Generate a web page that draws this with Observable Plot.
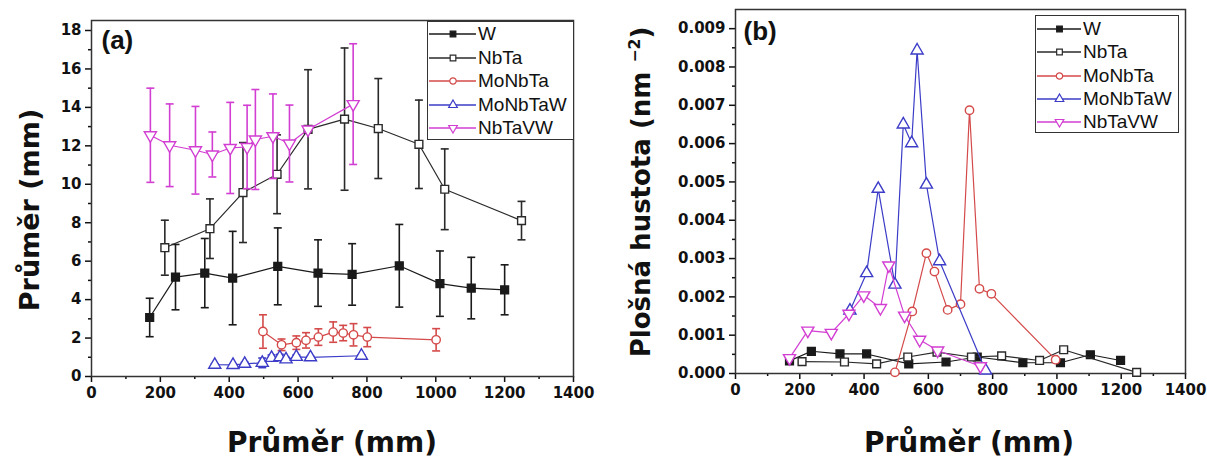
<!DOCTYPE html>
<html><head><meta charset="utf-8">
<script src="https://cdn.jsdelivr.net/npm/d3@7"></script>
<script src="https://cdn.jsdelivr.net/npm/@observablehq/plot@0.6"></script>
<style>
body{margin:0;background:#fff;}
#root{position:relative;width:1207px;height:459px;overflow:hidden;font-family:"Liberation Sans",Arial,sans-serif;color:#111;}
.panel{position:absolute;top:0;}
.lab{position:absolute;font-family:"DejaVu Sans",Verdana,sans-serif;font-weight:bold;white-space:nowrap;line-height:1;}
.legend{position:absolute;border:1.5px solid #333;background:#fff;box-sizing:border-box;}
.row{position:absolute;left:0;height:20px;display:flex;align-items:center;font-size:19px;white-space:nowrap;}
sup{font-size:0.6em;vertical-align:0.7em;}
</style></head>
<body><div id="root"></div>
<script>
// ---------- data ----------
const seriesNames = ["W", "NbTa", "MoNbTa", "MoNbTaW", "NbTaVW"];
const seriesColors = ["#1a1a1a", "#2a2a2a", "#d44a4a", "#3c3cc8", "#d23ed2"];
const seriesFills = ["#1a1a1a", "white", "white", "white", "white"];

// panel (a): diameter vs size with error bars
const aW_x = [169, 244, 329, 410, 541, 658, 757, 894, 1012, 1103, 1200];
const aW_y = [3.07, 5.17, 5.38, 5.12, 5.73, 5.38, 5.31, 5.76, 4.83, 4.60, 4.51];
const aW_err = [1.0, 1.7, 1.8, 2.43, 2.0, 1.73, 1.6, 2.15, 1.7, 1.6, 1.3];

const aNbTa_x = [213, 344, 440, 539, 629, 735, 833, 951, 1026, 1249];
const aNbTa_y = [6.70, 7.69, 9.57, 10.52, 12.86, 13.39, 12.90, 12.08, 9.74, 8.11];
const aNbTa_err = [1.43, 1.55, 2.6, 2.05, 3.1, 3.7, 2.6, 2.3, 2.1, 1.0];

const aMoNbTa_x = [498, 552, 595, 623, 659, 702, 731, 761, 801, 1001];
const aMoNbTa_y = [2.34, 1.65, 1.76, 1.88, 2.05, 2.31, 2.26, 2.17, 2.05, 1.91];
const aMoNbTa_err = [0.87, 0.3, 0.35, 0.4, 0.43, 0.53, 0.4, 0.58, 0.5, 0.58];

const aMoNbTaW_x = [358, 411, 445, 496, 523, 547, 565, 595, 636, 784];
const aMoNbTaW_y = [0.61, 0.60, 0.66, 0.71, 0.97, 1.00, 0.89, 1.02, 1.00, 1.08];
const aMoNbTaW_err = [0.05, 0.05, 0.08, 0.25, 0.15, 0.15, 0.1, 0.1, 0.05, 0.05];

const aNbTaVW_x = [171, 227, 302, 351, 403, 452, 476, 527, 575, 629, 760];
const aNbTaVW_y = [12.55, 12.03, 11.77, 11.55, 11.89, 11.94, 12.33, 12.50, 12.12, 12.85, 14.17];
const aNbTaVW_err = [2.45, 2.15, 2.28, 1.17, 2.37, 2.17, 2.6, 2.2, 2.0, 0, 3.14];

// panel (b): areal density
const bW_x = [168, 236, 325, 408, 539, 655, 752, 894, 1011, 1104, 1198];
const bW_y = [0.00033, 0.00058, 0.00051, 0.00051, 0.00025, 0.00030, 0.00043, 0.00028, 0.00028, 0.00049, 0.00034];

const bNbTa_x = [207, 339, 439, 536, 627, 734, 828, 946, 1021, 1248];
const bNbTa_y = [0.00031, 0.00030, 0.00025, 0.00043, 0.00056, 0.00043, 0.00046, 0.00034, 0.00062, 0.00003];

const bMoNbTa_x = [496, 550, 594, 619, 660, 700, 728, 759, 796, 996];
const bMoNbTa_y = [0.00003, 0.00162, 0.00314, 0.00266, 0.00166, 0.00181, 0.00687, 0.00221, 0.00208, 0.00036];

const bMoNbTaW_x = [356, 408, 444, 496, 522, 548, 565, 594, 635, 778];
const bMoNbTaW_y = [0.00164, 0.00262, 0.00482, 0.00232, 0.0065, 0.00601, 0.00843, 0.00493, 0.00293, 0.00008];

const bNbTaVW_x = [168, 225, 298, 353, 399, 451, 477, 526, 573, 629, 762];
const bNbTaVW_y = [0.0004, 0.00112, 0.00106, 0.00156, 0.00204, 0.00171, 0.00282, 0.00151, 0.00088, 0.0006, 0.00019];

const xTicks = [0, 200, 400, 600, 800, 1000, 1200, 1400];
const xMinor = [100, 300, 500, 700, 900, 1100, 1300];
const aYTicks = [0, 2, 4, 6, 8, 10, 12, 14, 16, 18];
const aYMinor = [1, 3, 5, 7, 9, 11, 13, 15, 17];
const bYTicks = [0, 0.001, 0.002, 0.003, 0.004, 0.005, 0.006, 0.007, 0.008, 0.009];
const bYMinor = [0.0005, 0.0015, 0.0025, 0.0035, 0.0045, 0.0055, 0.0065, 0.0075, 0.0085];

// ---------- symbols ----------
const sqrt3 = Math.sqrt(3);
const triDown = {draw(c, size) {
  const y = -Math.sqrt(size / (sqrt3 * 3));
  c.moveTo(0, -y * 2); c.lineTo(-sqrt3 * y, y); c.lineTo(sqrt3 * y, y); c.closePath();
}};
const capSym = {draw(c, size) {
  const w = Math.sqrt(size);
  c.moveTo(-w / 2, 0); c.lineTo(w / 2, 0);
}};
const seriesSymbols = ["square", "square", "circle", "triangle", triDown];
const seriesR = [4.4, 4.4, 4.2, 4.5, 4.5];

function seriesMarks(i, xs, ys, errs) {
  const color = seriesColors[i];
  const data = xs.map((v, k) => ({x: v, y: ys[k], e: errs ? errs[k] : 0}));
  const withErr = data.filter(d => d.e > 0);
  const marks = [Plot.line(data, {x: "x", y: "y", stroke: color, strokeWidth: 1.2})];
  if (errs) {
    marks.push(
      Plot.ruleX(withErr, {x: "x", y1: d => d.y - d.e, y2: d => d.y + d.e, stroke: color, strokeWidth: 1.6}),
      Plot.dot(withErr, {x: "x", y: d => d.y + d.e, symbol: capSym, r: 4.5, stroke: color, strokeWidth: 1.6}),
      Plot.dot(withErr, {x: "x", y: d => d.y - d.e, symbol: capSym, r: 4.5, stroke: color, strokeWidth: 1.6})
    );
  }
  marks.push(Plot.dot(data, {x: "x", y: "y", symbol: seriesSymbols[i], r: seriesR[i],
    stroke: color, fill: seriesFills[i], strokeWidth: 1.4}));
  return marks;
}

function axes(yTicks, yMinor, yFmt) {
  return [
    Plot.axisX(xTicks, {tickSize: 6, tickPadding: 5, strokeWidth: 1.5, tickFormat: d => String(d)}),
    Plot.axisX(xMinor, {tickSize: 3, strokeWidth: 1.5, tickFormat: () => ""}),
    Plot.axisY(yTicks, {tickSize: 6, tickPadding: 4, strokeWidth: 1.5, tickFormat: yFmt}),
    Plot.axisY(yMinor, {tickSize: 3, strokeWidth: 1.5, tickFormat: () => ""}),
    Plot.frame({stroke: "#333", strokeWidth: 1.5})
  ];
}

const root = document.getElementById("root");
const plotStyle = {fontFamily: "'DejaVu Sans', Verdana, sans-serif", fontSize: "15px", fontWeight: "bold", color: "#111", background: "transparent"};

const plotA = Plot.plot({
  width: 600, height: 410,
  marginLeft: 91, marginRight: 27, marginTop: 20, marginBottom: 34,
  x: {domain: [0, 1400], label: null},
  y: {domain: [0, 18.52], label: null},
  style: plotStyle,
  marks: [
    ...axes(aYTicks, aYMinor, d => String(d)),
    ...seriesMarks(0, aW_x, aW_y, aW_err),
    ...seriesMarks(1, aNbTa_x, aNbTa_y, aNbTa_err),
    ...seriesMarks(2, aMoNbTa_x, aMoNbTa_y, aMoNbTa_err),
    ...seriesMarks(3, aMoNbTaW_x, aMoNbTaW_y, aMoNbTaW_err),
    ...seriesMarks(4, aNbTaVW_x, aNbTaVW_y, aNbTaVW_err),
    Plot.text(["(a)"], {frameAnchor: "top-left", dx: 10, dy: 10, fontSize: 26, fontWeight: "bold", fill: "#111", fontFamily: "'Liberation Sans', Arial, sans-serif"})
  ]
});
plotA.classList.add("panel"); plotA.style.left = "0px";
root.appendChild(plotA);

const plotB = Plot.plot({
  width: 587, height: 410,
  marginLeft: 115, marginRight: 22, marginTop: 9, marginBottom: 37,
  x: {domain: [0, 1400], label: null},
  y: {domain: [0, 0.0095], label: null},
  style: plotStyle,
  marks: [
    ...axes(bYTicks, bYMinor, d3.format(".3f")),
    ...seriesMarks(0, bW_x, bW_y, null),
    ...seriesMarks(1, bNbTa_x, bNbTa_y, null),
    ...seriesMarks(2, bMoNbTa_x, bMoNbTa_y, null),
    ...seriesMarks(3, bMoNbTaW_x, bMoNbTaW_y, null),
    ...seriesMarks(4, bNbTaVW_x, bNbTaVW_y, null),
    Plot.text(["(b)"], {frameAnchor: "top-left", dx: 8, dy: 12, fontSize: 26, fontWeight: "bold", fill: "#111", fontFamily: "'Liberation Sans', Arial, sans-serif"})
  ]
});
plotB.classList.add("panel"); plotB.style.left = "620px";
root.appendChild(plotB);

// ---------- axis titles ----------
function label(html, cx, cy, size, rotate) {
  const d = document.createElement("div");
  d.className = "lab";
  d.innerHTML = html;
  d.style.fontSize = size + "px";
  d.style.left = cx + "px";
  d.style.top = cy + "px";
  d.style.transform = "translate(-50%,-50%)" + (rotate ? " rotate(-90deg)" : "");
  root.appendChild(d);
}
label("Průměr (mm)", 332, 443, 28, false);
label("Průměr (mm)", 969, 443, 28, false);
label("Průměr (mm)", 29, 210, 27, true);
label("Plošná hustota (nm <sup>−2</sup>)", 641, 192, 26, true);

// ---------- legends ----------
function legend(left, top, w, h, firstY, step, textX) {
  const box = document.createElement("div");
  box.className = "legend";
  Object.assign(box.style, {left: left + "px", top: top + "px", width: w + "px", height: h + "px"});
  seriesNames.forEach((name, i) => {
    const row = document.createElement("div");
    row.className = "row";
    row.style.top = (firstY + i * step - 10) + "px";
    const svg = d3.create("svg").attr("width", textX).attr("height", 20);
    const c = seriesColors[i];
    svg.append("line").attr("x1", 1).attr("x2", textX - 2).attr("y1", 10).attr("y2", 10)
      .attr("stroke", c).attr("stroke-width", 1.4);
    const sym = seriesSymbols[i] === "square" ? d3.symbolSquare :
      seriesSymbols[i] === "circle" ? d3.symbolCircle :
      seriesSymbols[i] === "triangle" ? d3.symbolTriangle : triDown;
    svg.append("path").attr("d", d3.symbol(sym, 32)()).attr("transform", `translate(${textX / 2},10)`)
      .attr("fill", seriesFills[i]).attr("stroke", c).attr("stroke-width", 1.2);
    row.appendChild(svg.node());
    const t = document.createElement("span");
    t.textContent = name;
    row.appendChild(t);
    box.appendChild(row);
  });
  root.appendChild(box);
}
legend(427, 21, 147, 119, 12, 23.5, 50);
legend(1035, 15, 144, 118, 13, 23.3, 47);
</script>
</body></html>
